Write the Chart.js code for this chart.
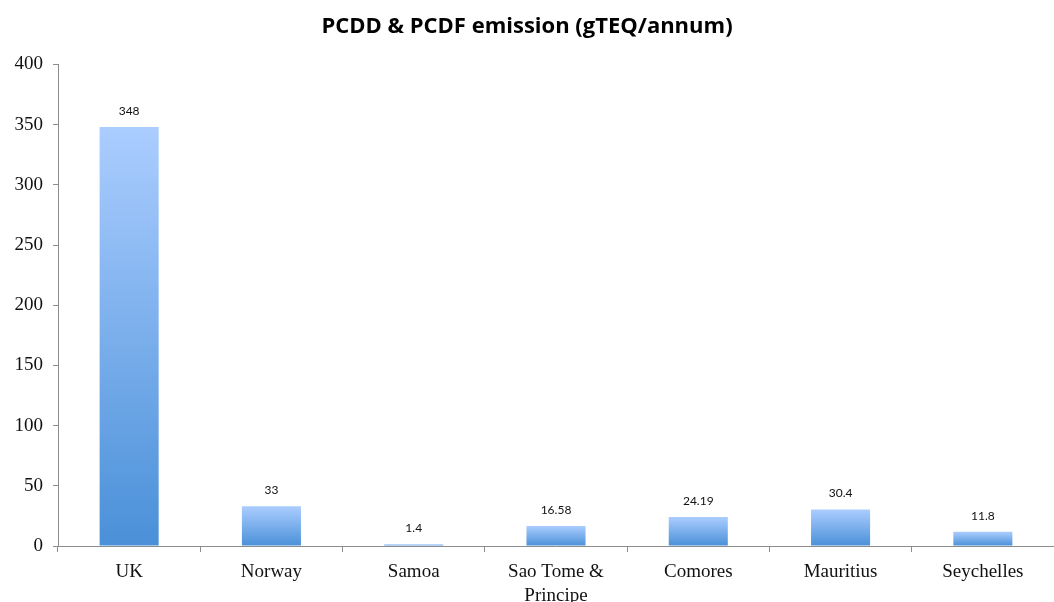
<!DOCTYPE html>
<html>
<head>
<meta charset="utf-8">
<script src="https://cdn.jsdelivr.net/npm/chart.js@4"></script>
<style>
  html, body { margin: 0; padding: 0; background: #ffffff; }
  #wrap { width: 1054px; height: 602px; }
</style>
</head>
<body>
<div id="wrap"><canvas id="c" width="1054" height="602"></canvas></div>
<script>
// Emission per country
const categories = ['UK', 'Norway', 'Samoa', ['Sao Tome &', 'Principe'], 'Comores', 'Mauritius', 'Seychelles'];
const emissions = [348, 33, 1.4, 16.58, 24.19, 30.4, 11.8];
const valueLabels = ['348', '33', '1.4', '16.58', '24.19', '30.4', '11.8'];
const yTicks = [0, 50, 100, 150, 200, 250, 300, 350, 400];

const axisColor = '#8c8c8c';
const serif = '"Liberation Serif", "DejaVu Serif", serif';

// Vertical gradient per bar, from its own top to the baseline
function barFill(ctx) {
  const chart = ctx.chart;
  if (!chart.chartArea || ctx.type !== 'data') return '#6fa7e6';
  const y = chart.scales.y;
  const top = y.getPixelForValue(ctx.raw);
  const base = y.getPixelForValue(0);
  const g = chart.ctx.createLinearGradient(0, top, 0, base);
  g.addColorStop(0, '#abcdff');
  g.addColorStop(1, '#4a90d8');
  return g;
}

// Value labels drawn above each bar
const valueLabelPlugin = {
  id: 'valueLabels',
  afterDatasetsDraw(chart) {
    const ctx = chart.ctx;
    const meta = chart.getDatasetMeta(0);
    ctx.save();
    ctx.font = '12px Lato, "Open Sans", sans-serif';
    ctx.fillStyle = '#111';
    ctx.textAlign = 'center';
    ctx.textBaseline = 'middle';
    meta.data.forEach((bar, i) => {
      ctx.fillText(valueLabels[i], bar.x, bar.y - 16);
    });
    ctx.restore();
  }
};

new Chart(document.getElementById('c'), {
  type: 'bar',
  data: {
    labels: categories,
    datasets: [{
      data: emissions,
      backgroundColor: barFill,
      borderWidth: 0,
      barPercentage: 0.415,
      categoryPercentage: 1.0
    }]
  },
  options: {
    responsive: false,
    animation: false,
    devicePixelRatio: 1,
    layout: { padding: { left: 0, right: 0, top: 0, bottom: 0 } },
    plugins: {
      legend: { display: false },
      tooltip: { enabled: false },
      title: {
        display: true,
        text: 'PCDD & PCDF emission (gTEQ/annum)',
        color: '#000',
        font: { family: '"Open Sans", Lato, sans-serif', size: 22, weight: 'bold' },
        padding: { top: 14, bottom: 24 }
      }
    },
    scales: {
      x: {
        offset: true,
        grid: {
          offset: true,
          drawOnChartArea: false,
          drawTicks: true,
          tickLength: 6,
          color: axisColor
        },
        border: { display: true, color: axisColor, width: 1 },
        ticks: {
          color: '#111',
          font: { family: serif, size: 19, lineHeight: 1.25 },
          padding: 8,
          maxRotation: 0,
          autoSkip: false
        },
        afterFit(scale) { scale.height = 56; }
      },
      y: {
        min: 0,
        max: 400,
        afterBuildTicks(scale) { scale.ticks = yTicks.map(v => ({ value: v })); },
        grid: {
          drawOnChartArea: false,
          drawTicks: true,
          tickLength: 5,
          color: axisColor
        },
        border: { display: true, color: axisColor, width: 1 },
        ticks: {
          color: '#111',
          font: { family: serif, size: 19 },
          padding: 10
        },
        afterFit(scale) { scale.width = 58; }
      }
    }
  },
  plugins: [valueLabelPlugin]
});
</script>
</body>
</html>
